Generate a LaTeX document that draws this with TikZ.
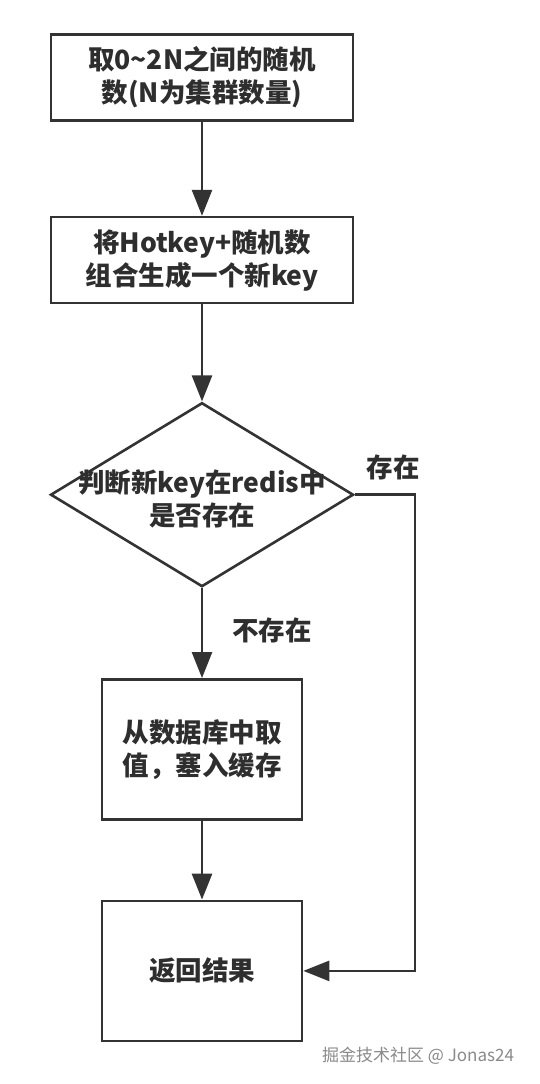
\documentclass[tikz,border=0pt]{standalone}
\usepackage{fontspec}
\usepackage{xcolor}
\usepackage{tikz}
\usetikzlibrary{arrows.meta,positioning,shapes.geometric}
\newfontfamily\cjk{Noto Sans CJK SC}
\definecolor{fcline}{HTML}{333333}
\definecolor{fctext}{HTML}{2E2E2E}
\definecolor{fcmark}{HTML}{8A8A8A}
\tikzset{
  procbox/.style={draw=fcline,line width=2.6pt,fill=white,minimum width=302pt,
    minimum height=86pt,align=center,inner sep=0pt,text=fctext},
  smallbox/.style={procbox,minimum width=200pt,minimum height=140pt},
  decide/.style={draw=fcline,line width=2.6pt,diamond,inner sep=0pt,
    minimum width=303pt,minimum height=184pt},
  flow/.style={-{Triangle[length=26pt,width=20pt]},line width=2.6pt,draw=fcline},
  tag/.style={text=fctext,align=center,inner sep=0pt}
}

\begin{document}
\begin{tikzpicture}[x=1pt,y=1pt,font=\cjk\bfseries\fontsize{26.5}{33}\selectfont]
    \useasboundingbox[fill=white] (0,0) rectangle (540,-1084);
    \node[procbox] (rnd) at (202,-77.5) {取0\textasciitilde 2N之间的随机\\数(N为集群数量)};
    \node[procbox,below=94pt of rnd] (newkey) {将Hotkey+随机数\\组合生成一个新key};
    \node[decide,below=97pt of newkey] (chk) {};
    \node[tag] (chktxt) at ([yshift=-4pt]chk.center) {判断新key在redis中\\是否存在};
    \node[smallbox,below=90pt of chk] (load) {从数据库中取\\值，塞入缓存};
    \node[smallbox,below=79pt of load] (ret) {返回结果};
    \node[tag] (yes) at (393,-467) {存在};
    \node[tag] (no) at (272,-630) {不存在};
    \node[tag,text=fcmark,font=\cjk\fontsize{17}{20}\selectfont] (mark) at (418,-1056) {掘金技术社区 @ Jonas24};
    \draw[flow] (rnd) -- (newkey);
    \draw[flow] (newkey) -- (chk);
    \draw[flow] (chk) -- (load);
    \draw[flow] (load) -- (ret);
    \draw[flow] (chk.east) -- ++(60pt,0) |- (ret.east);
\end{tikzpicture}
\end{document}
